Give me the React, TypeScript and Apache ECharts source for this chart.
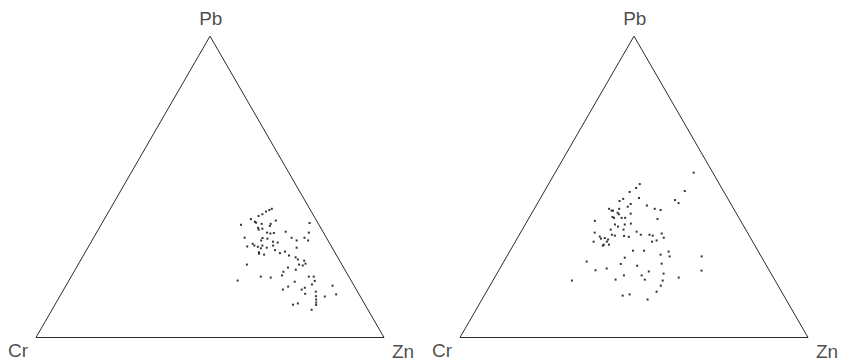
import React, { useEffect, useRef } from "react";
import * as echarts from "echarts";

// Ternary compositions (%): Cr, Zn, Pb
const leftCr = [
  10.9, 11.8, 13.0, 14.5, 15.9, 18.6, 17.9, 17.7, 16.3, 13.7,
  11.7, 14.3, 22.4, 18.0, 16.9, 18.1, 2.4, 16.2, 15.4, 14.3,
  10.7, 4.2, 23.5, 18.4, 17.1, 10.0, 6.3, 5.7, 9.0, 19.2,
  16.0, 14.8, 22.2, 24.2, 22.0, 21.2, 19.7, 18.8, 16.6, 10.2,
  20.6, 21.8, 22.0, 20.7, 16.8, 15.9, 14.2, 13.7, 12.1, 11.8,
  10.2, 10.3, 12.3, 11.4, 27.3, 16.0, 14.1, 18.0, 19.0, 25.3,
  22.6, 11.5, 10.1, 10.5, 32.6, 16.4, 11.9, 19.1, 14.5, 21.1,
  15.7, 6.2, 12.0, 15.4, 6.6, 10.2, 12.7, 13.2, 20.7, 19.1,
  13.7, 14.1, 16.2,
];
const leftZn = [
  46.4, 45.9, 45.2, 44.6, 43.8, 42.1, 43.7, 44.2, 46.0, 48.6,
  49.5, 48.7, 40.2, 45.6, 47.0, 46.1, 59.6, 49.0, 50.1, 51.0,
  54.2, 61.0, 43.4, 48.6, 50.1, 56.9, 60.6, 62.1, 58.8, 48.6,
  52.2, 53.7, 46.7, 45.6, 47.5, 48.7, 49.8, 51.4, 52.9, 60.0,
  49.8, 49.9, 50.2, 51.8, 54.2, 56.1, 57.3, 59.1, 61.3, 62.3,
  64.3, 65.2, 63.5, 64.7, 48.5, 60.8, 63.4, 60.2, 60.4, 54.5,
  57.5, 68.3, 69.7, 70.7, 48.5, 65.1, 70.5, 64.0, 69.0, 63.0,
  68.4, 76.6, 72.8, 70.1, 79.1, 76.2, 73.6, 74.2, 68.4, 69.6,
  74.7, 75.1, 74.6,
];
const leftPb = [
  42.7, 42.3, 41.8, 40.9, 40.3, 39.3, 38.4, 38.1, 37.7, 37.7,
  38.8, 37.0, 37.4, 36.4, 36.1, 35.8, 38.0, 34.8, 34.5, 34.7,
  35.1, 34.8, 33.1, 33.0, 32.8, 33.1, 33.1, 32.2, 32.2, 32.2,
  31.8, 31.5, 31.1, 30.2, 30.5, 30.1, 30.5, 29.8, 30.5, 29.8,
  29.6, 28.3, 27.8, 27.5, 29.0, 28.0, 28.5, 27.2, 26.6, 25.9,
  25.5, 24.5, 24.2, 23.9, 24.2, 23.2, 22.5, 21.8, 20.6, 20.2,
  19.9, 20.2, 20.2, 18.8, 18.9, 18.5, 17.6, 16.9, 16.5, 15.9,
  15.9, 17.2, 15.2, 14.5, 14.3, 13.6, 13.7, 12.6, 10.9, 11.3,
  11.6, 10.8, 9.2,
];

const rightCr = [
  5.5, 22.9, 24.6, 11.1, 27.1, 25.4, 30.1, 31.5, 15.4, 14.9,
  28.8, 24.4, 30.1, 35.8, 32.9, 22.7, 21.2, 35.4, 35.0, 34.0,
  30.4, 33.9, 36.2, 35.9, 33.7, 32.7, 23.6, 41.9, 36.7, 33.9,
  32.0, 36.2, 38.8, 35.1, 31.7, 43.9, 39.3, 38.6, 36.0, 34.8,
  31.0, 28.5, 27.7, 24.8, 24.9, 43.1, 43.1, 41.9, 41.2, 45.7,
  41.9, 28.9, 27.4, 43.3, 43.7, 41.8, 35.9, 32.7, 25.8, 26.3,
  28.6, 39.4, 17.1, 51.0, 41.6, 29.8, 37.2, 46.4, 49.9, 19.5,
  34.8, 30.9, 42.6, 37.5, 27.2, 37.3, 45.7, 32.3, 58.4, 33.7,
  35.9, 46.3, 44.1, 39.8,
];
const rightZn = [
  39.8, 26.2, 25.8, 40.3, 24.6, 28.3, 23.9, 23.2, 39.0, 40.5,
  26.9, 31.8, 26.5, 21.5, 24.4, 34.6, 36.5, 22.5, 22.9, 24.6,
  28.5, 25.2, 23.8, 24.4, 26.6, 27.6, 37.1, 19.4, 25.8, 28.6,
  30.2, 27.0, 25.4, 29.1, 33.2, 21.3, 26.6, 27.6, 30.3, 31.8,
  34.9, 37.4, 38.5, 40.7, 42.0, 23.4, 24.1, 25.1, 26.3, 22.5,
  26.3, 39.3, 40.4, 25.9, 25.8, 27.4, 35.3, 38.5, 45.7, 46.8,
  43.9, 34.1, 56.0, 23.8, 34.0, 45.7, 39.0, 30.7, 27.8, 58.3,
  43.3, 47.9, 36.8, 41.9, 52.9, 43.5, 35.1, 48.8, 22.7, 49.1,
  48.9, 39.8, 41.6, 47.6,
];
const rightPb = [
  54.7, 50.9, 49.6, 48.6, 48.3, 46.3, 46.0, 45.3, 45.6, 44.6,
  44.3, 43.8, 43.4, 42.7, 42.7, 42.7, 42.3, 42.1, 42.1, 41.4,
  41.1, 40.9, 40.0, 39.7, 39.7, 39.7, 39.3, 38.7, 37.5, 37.5,
  37.8, 36.8, 35.8, 35.8, 35.1, 34.8, 34.1, 33.8, 33.7, 33.4,
  34.1, 34.1, 33.8, 34.5, 33.1, 33.5, 32.8, 33.0, 32.5, 31.8,
  31.8, 31.8, 32.2, 30.8, 30.5, 30.8, 28.8, 28.8, 28.5, 26.9,
  27.5, 26.5, 26.9, 25.2, 24.4, 24.5, 23.8, 22.9, 22.3, 22.2,
  21.9, 21.2, 20.6, 20.6, 19.9, 19.2, 19.2, 18.9, 18.9, 17.2,
  15.2, 13.9, 14.3, 12.6,
];

const vertexNames = ["Cr", "Zn", "Pb"];

const H = Math.sqrt(3) / 2;

function toXY(cr: number[], zn: number[], pb: number[]): number[][] {
  return cr.map((c, i) => {
    const s = c + zn[i] + pb[i];
    const z = zn[i] / s;
    const p = pb[i] / s;
    return [z + p / 2, p * H];
  });
}

const FONT = "'Liberation Sans', Arial, Helvetica, sans-serif";

function panel(idx: number, cr: number[], zn: number[], pb: number[]) {
  const frame = [
    [0, 0],
    [1, 0],
    [0.5, H],
    [0, 0],
  ];
  const labelOffsets: Record<string, number[]> = {
    Cr: [-18, 13],
    Zn: [19, 13.5],
    Pb: [0.8, -17.4],
  };
  const verts = [
    [0, 0],
    [1, 0],
    [0.5, H],
  ];
  return [
    {
      type: "line",
      xAxisIndex: idx,
      yAxisIndex: idx,
      data: frame,
      symbol: "none",
      silent: true,
      lineStyle: { color: "#2b2b2b", width: 1 },
      z: 1,
    },
    {
      type: "scatter",
      xAxisIndex: idx,
      yAxisIndex: idx,
      symbolSize: 1,
      itemStyle: { color: "transparent" },
      silent: true,
      data: vertexNames.map((n, i) => ({
        name: n,
        value: verts[i],
        label: {
          show: true,
          position: "inside",
          offset: labelOffsets[n],
        },
      })),
      label: {
        show: true,
        formatter: "{b}",
        fontSize: 19,
        fontFamily: FONT,
        color: "#1a1a1a",
        align: "center",
        verticalAlign: "middle",
      },
      z: 3,
    },
    {
      type: "scatter",
      xAxisIndex: idx,
      yAxisIndex: idx,
      symbol: "rect",
      symbolSize: 2,
      itemStyle: { color: "#000" },
      data: toXY(cr, zn, pb),
      z: 2,
    },
  ];
}

export default function App() {
  const ref = useRef<HTMLDivElement>(null);
  useEffect(() => {
    if (!ref.current) return;
    const chart = echarts.init(ref.current, undefined, { renderer: "svg" });
    const gw = 348;
    const gh = gw * H;
    const top = 337.5 - gh;
    const axisCommon = { type: "value", show: false };
    chart.setOption({
      animation: false,
      backgroundColor: "#ffffff",
      grid: [
        { left: 36, top, width: gw, height: gh, containLabel: false },
        { left: 460, top, width: gw, height: gh, containLabel: false },
      ],
      xAxis: [
        { ...axisCommon, gridIndex: 0, min: 0, max: 1 },
        { ...axisCommon, gridIndex: 1, min: 0, max: 1 },
      ],
      yAxis: [
        { ...axisCommon, gridIndex: 0, min: 0, max: H },
        { ...axisCommon, gridIndex: 1, min: 0, max: H },
      ],
      series: [
        ...panel(0, leftCr, leftZn, leftPb),
        ...panel(1, rightCr, rightZn, rightPb),
      ],
    });
    return () => chart.dispose();
  }, []);
  return (
    <div
      ref={ref}
      style={{ position: "absolute", left: 0, top: 0, width: 841, height: 358 }}
    />
  );
}
